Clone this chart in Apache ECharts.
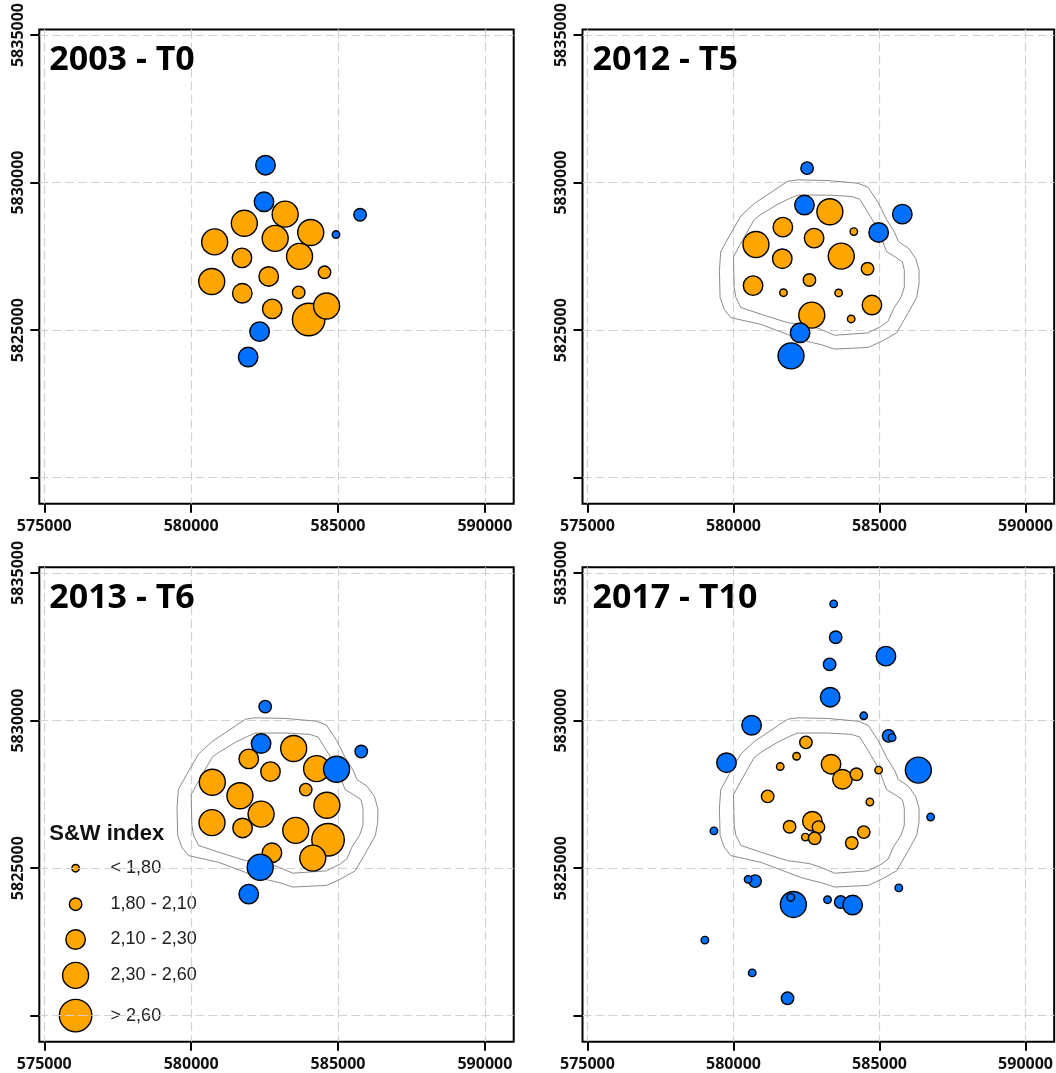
<!DOCTYPE html>
<html><head><meta charset="utf-8">
<script src="https://cdn.jsdelivr.net/npm/echarts@6/dist/echarts.min.js"></script>
<style>html,body{margin:0;padding:0;background:#fff;overflow:hidden}#c{width:1056px;height:1073px}</style>
</head><body><div id="c"></div>
<script>
// ---------- data ----------
const panelTitles = ['2003 - T0', '2012 - T5', '2013 - T6', '2017 - T10'];
const xTicks = [575000, 580000, 585000, 590000];
const yTicks = [5820000, 5825000, 5830000, 5835000];
const yLabelTicks = [5825000, 5830000, 5835000];
const legendTitle = 'S&W index';
const legendLabels = ['< 1,80', '1,80 - 2,10', '2,10 - 2,30', '2,30 - 2,60', '> 2,60'];

// [x, y, size class 1..5]
const t0Orange = [
  [583200,5828930,4],[581810,5828620,4],[584070,5828310,4],[580800,5827990,4],[582860,5828110,4],
  [581730,5827450,3],[583690,5827500,4],[584540,5826960,2],[580700,5826650,4],[582640,5826820,3],
  [581740,5826250,3],[583660,5826280,2],[582760,5825720,3],[584000,5825360,5],[584610,5825820,4]
];
const t0Blue = [
  [582530,5830590,3],[582480,5829350,3],[585750,5828910,2],[584930,5828240,1],[582330,5824950,3],[581940,5824090,3]
];
const t5Orange = [
  [583300,5829010,4],[581690,5828490,3],[584120,5828340,1],[580770,5827900,4],[582760,5828120,3],
  [581670,5827420,3],[583690,5827510,4],[584590,5827080,2],[580670,5826510,3],[582600,5826700,2],
  [581710,5826270,1],[583600,5826260,1],[582680,5825510,4],[584740,5825850,3],[584030,5825380,1]
];
const t5Blue = [
  [582520,5830490,2],[582430,5829240,3],[585780,5828930,3],[584970,5828310,3],[582280,5824910,3],[581970,5824130,4]
];
const t6Orange = [
  [583490,5829050,4],[581960,5828700,3],[582700,5828270,3],[584270,5828370,4],[580720,5827910,4],
  [583900,5827660,2],[581660,5827450,4],[584620,5827130,4],[582380,5826830,4],[580710,5826540,4],
  [581750,5826360,3],[583560,5826280,4],[584660,5825960,5],[582750,5825520,3],[584140,5825340,4]
];
const t6Blue = [
  [582520,5830470,2],[582380,5829220,3],[585790,5828950,2],[584950,5828350,4],[582350,5825030,4],[581960,5824120,3]
];
const t10Orange = [
  [582480,5829260,2],[582160,5828790,1],[581600,5828440,1],[583340,5828520,3],[583730,5828010,3],
  [584210,5828180,2],[584970,5828320,1],[581170,5827430,2],[584670,5827240,1],[581920,5826400,2],
  [582700,5826590,3],[582910,5826390,2],[584460,5826220,2],[582460,5826050,1],[582780,5826010,2],
  [584050,5825850,2]
];
const t10Blue = [
  [583430,5833950,1],[583500,5832820,2],[585220,5832180,3],[583290,5831900,2],[583310,5830790,3],
  [584460,5830160,1],[580620,5829840,3],[585310,5829480,2],[585430,5829420,1],[579760,5828570,3],
  [586330,5828320,4],[586750,5826730,1],[579330,5826260,1],[580740,5824560,2],[580500,5824620,1],
  [582050,5823770,4],[581960,5824010,1],[583220,5823930,1],[583670,5823850,2],[584080,5823750,3],
  [585660,5824330,1],[579020,5822560,1],[580640,5821450,1],[581850,5820590,2]
];

const contourOuter = [
  [581858,5830046],[582202,5830092],[583234,5830069],[584266,5829977],[584610,5829839],[584954,5829323],
  [585241,5828750],[585528,5828291],[585642,5828005],[585986,5827775],[586239,5827431],[586353,5827030],
  [586353,5826571],[586273,5826112],[585986,5825596],[585585,5824908],[585069,5824621],[584610,5824415],
  [583463,5824358],[583005,5824507],[582661,5824587],[582317,5824679],[581858,5824851],[580940,5825195],
  [579908,5825424],[579679,5825711],[579541,5826112],[579518,5827030],[579564,5827661],[579851,5828177],
  [580252,5828865],[580711,5829289],[581284,5829667],[581628,5829897],[581858,5830046]
];
const contourInner = [
  [582202,5829576],[583234,5829576],[584037,5829530],[584323,5829438],[584610,5828979],[584954,5828406],
  [585241,5827661],[585528,5827489],[585780,5827316],[585849,5827030],[585849,5826456],[585734,5826112],
  [585470,5825711],[585298,5825310],[585069,5825138],[584610,5824908],[583463,5824828],[583005,5825023],
  [582661,5825138],[582317,5825195],[581858,5825252],[580940,5825539],[580252,5825768],[580080,5826112],
  [580023,5826456],[580000,5827489],[580252,5827947],[580711,5828750],[580940,5828922],[581514,5829266],
  [581915,5829461],[582202,5829576]
];

// ---------- styling / layout ----------
const classSizes = [7.5, 12.5, 19.5, 26, 32.5];
const ORANGE = '#FFA500', BLUE = '#0070FF';
const X_MIN = 574830, X_MAX = 590980, Y_MIN = 5819120, Y_MAX = 5835190;
const FRAME = 474.4;
const panels = [
  { title: panelTitles[0], orange: t0Orange, blue: t0Blue, contour: false, left: 39.3, top: 29.3 },
  { title: panelTitles[1], orange: t5Orange, blue: t5Blue, contour: true,  left: 582.5, top: 29.3 },
  { title: panelTitles[2], orange: t6Orange, blue: t6Blue, contour: true,  left: 39.3, top: 567.3 },
  { title: panelTitles[3], orange: t10Orange, blue: t10Blue, contour: true, left: 582.5, top: 567.3 }
];

const labelFont = { fontFamily: 'Open Sans', fontWeight: 'bold', fontSize: 16, color: '#111', lineHeight: 17,
  formatter: v => String(v) };
const splitStyle = { color: '#d2d2d2', width: 1.2, type: [9, 4] };

const grid = [], xAxis = [], yAxis = [], series = [], title = [];
panels.forEach((p, i) => {
  grid.push({ left: p.left, top: p.top, width: FRAME, height: FRAME, show: true,
    borderColor: '#000', borderWidth: 2, backgroundColor: 'transparent', containLabel: false });
  xAxis.push({ type: 'value', gridIndex: i, min: X_MIN, max: X_MAX,
    axisLine: { show: false, onZero: false },
    axisTick: { show: true, length: 9, lineStyle: { color: '#000', width: 2 }, customValues: xTicks },
    axisLabel: Object.assign({ customValues: xTicks, margin: 14 }, labelFont),
    splitLine: { show: true, lineStyle: splitStyle } });
  yAxis.push({ type: 'value', gridIndex: i, min: Y_MIN, max: Y_MAX,
    axisLine: { show: false, onZero: false },
    axisTick: { show: true, length: 9, lineStyle: { color: '#000', width: 2 }, customValues: yTicks },
    axisLabel: Object.assign({ customValues: yLabelTicks, margin: 12.5, rotate: 90 }, labelFont),
    splitLine: { show: true, lineStyle: splitStyle } });
  title.push({ text: p.title, left: p.left + 10, top: p.top + 11.5, padding: 0,
    textStyle: { fontFamily: 'Open Sans', fontWeight: 'bold', fontSize: 34, color: '#000', lineHeight: 40 } });
  if (p.contour) {
    [contourOuter, contourInner].forEach(c => series.push({
      type: 'line', xAxisIndex: i, yAxisIndex: i, data: c, symbol: 'none', showSymbol: false,
      lineStyle: { color: '#8c8c8c', width: 1 }, silent: true, z: 1, animation: false }));
  }
  series.push({ type: 'scatter', xAxisIndex: i, yAxisIndex: i, data: p.orange,
    symbolSize: v => classSizes[v[2] - 1],
    itemStyle: { color: ORANGE, borderColor: '#000', borderWidth: 1.4, opacity: 1 }, z: 3 });
  series.push({ type: 'scatter', xAxisIndex: i, yAxisIndex: i, data: p.blue,
    symbolSize: v => classSizes[v[2] - 1],
    itemStyle: { color: BLUE, borderColor: '#000', borderWidth: 1.4, opacity: 1 }, z: 4 });
});

// legend (size key) drawn inside the 2013 panel
const legendRowsY = [868.2, 904.2, 939.5, 975.4, 1015.6];
const legendEls = [{ type: 'text', x: 49.3, y: 834, style: { text: legendTitle,
  font: 'bold 22px "Liberation Sans", Arial, sans-serif', fill: '#111', verticalAlign: 'middle', align: 'left' } }];
legendLabels.forEach((lab, k) => {
  legendEls.push({ type: 'circle', shape: { cx: 75.6, cy: legendRowsY[k], r: classSizes[k] / 2 },
    style: { fill: ORANGE, stroke: '#000', lineWidth: 1.4 } });
  legendEls.push({ type: 'text', x: 110.6, y: legendRowsY[k], style: { text: lab,
    font: '18px "Liberation Sans", Arial, sans-serif', fill: '#222', verticalAlign: 'middle', align: 'left' } });
});

const chart = echarts.init(document.getElementById('c'), null, { renderer: 'canvas' });
chart.setOption({
  animation: false,
  backgroundColor: '#fff',
  title, grid, xAxis, yAxis, series,
  graphic: { elements: [{ type: 'group', z: 100, children: legendEls }] }
});
</script></body></html>
